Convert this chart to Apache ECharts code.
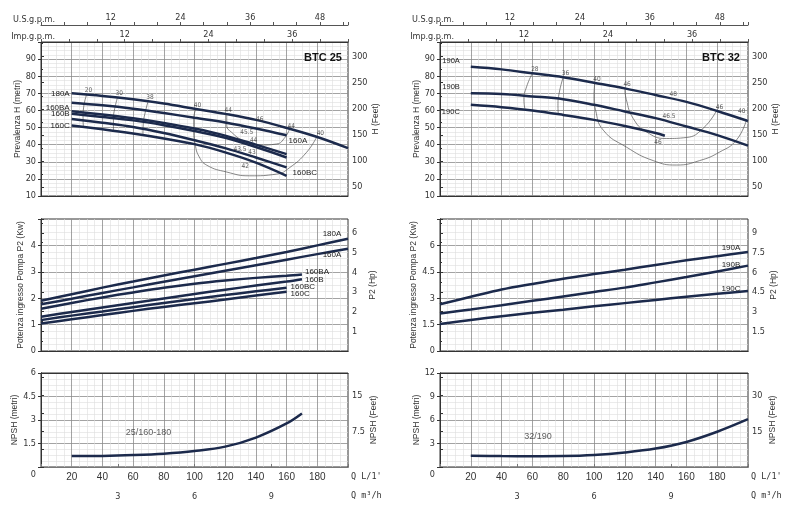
<!DOCTYPE html>
<html><head><meta charset="utf-8">
<script src="https://cdn.jsdelivr.net/npm/echarts@6/dist/echarts.min.js"></script>
<style>html,body{margin:0;padding:0;background:#fff}#c{width:800px;height:526px}</style>
</head><body><div id="c"></div><script>
// ---------- data (Q in L/min) ----------
const Q20_160 = [20,40,60,80,100,120,140,160];
const Q20_200 = [20,40,60,80,100,120,140,160,180,200];
const Q20_146 = [20,40,60,80,100,120,140,146];
const Q20_170 = [20,40,60,80,100,120,140,160,170];
const Q0_200 = [0,20,40,60,80,100,120,140,160,180,200];
const Q0_170 = [0,20,40,60,80,100,120,140,160,170];
const Q0_160 = [0,20,40,60,80,100,120,140,160];

// BTC 25 head H (m)
const H_180A  = [70,68.5,66.5,64,61,58,54.5,49.8,44.5,38];
const H_160A  = [64.5,63,61,58.5,55.7,53,49.5,45.5];
const H_160BA = [59.5,57.6,55.4,52.7,49.4,45.3,40,34.5];
const H_160B  = [58,56.2,54.2,51.4,48,44,38.6,32.5];
const H_160BC = [55,52.8,50.3,46.8,42.6,38,32.5,26.7];
const H_160C  = [51.2,49,46.5,43.6,40.3,35.5,29.5,21.8];
// BTC 32 head H (m)
const H_190A = [85.5,84,81.7,79.4,76.2,72.9,69,65,59.7,53.8];
const H_190B = [70,69.6,68.2,66.6,63.3,59.4,55.5,50.6,45.6,39.4];
const H_190C = [63.3,61.9,60,57.4,54.5,50.9,46.8,45.2];

// BTC 25 power P2 (kW)
const P_180A  = [1.9,2.15,2.4,2.63,2.86,3.08,3.3,3.52,3.75,4.0,4.25];
const P_160A  = [1.77,1.98,2.2,2.41,2.62,2.83,3.04,3.25,3.46,3.67,3.87];
const P_160BA = [1.6,1.82,2.03,2.22,2.4,2.55,2.67,2.77,2.85,2.9];
const P_160B  = [1.3,1.48,1.65,1.82,1.99,2.16,2.32,2.48,2.63,2.72];
const P_160BC = [1.17,1.34,1.5,1.66,1.82,1.97,2.12,2.26,2.4];
const P_160C  = [1.04,1.2,1.36,1.52,1.67,1.81,1.95,2.1,2.24];
// BTC 32 power P2 (kW)
const P_190A = [2.66,3.08,3.49,3.81,4.11,4.37,4.62,4.89,5.15,5.39,5.62];
const P_190B = [2.13,2.36,2.6,2.85,3.1,3.35,3.6,3.9,4.2,4.52,4.85];
const P_190C = [1.53,1.76,1.98,2.17,2.35,2.54,2.72,2.9,3.08,3.25,3.41];

// NPSH (m)
const N_25 = [0.7,0.71,0.76,0.85,1.02,1.3,1.88,2.78,3.42];
const N_32 = [1.44,1.4,1.38,1.4,1.53,1.85,2.35,3.2,4.5,6.1];

// efficiency iso-curves [Q, H]
const E25_20 = [[30,70],[27.8,62],[27.4,56],[27.6,50.5]];
const E25_30 = [[50,68],[48,61],[47.2,55],[47.2,48.5]];
const E25_38 = [[70,66],[67.8,58.5],[66.6,52],[66.4,46]];
const E25_40 = [[101,61.2],[99.5,55],[99.5,49],[100.5,40],[103,33],[108,28],[121,24],[136,21.8],[153.5,22.8],[162,26.6],[173,35.5],[179.6,44.5]];
const E25_44 = [[121,58],[121,51.2],[124.2,47.2],[131.8,42.4],[142.7,39.8],[153.5,40.4],[159,44.3],[162,49.3]];
const E32_28 = [[60,81.7],[56.2,73.8],[54.5,66.3],[55.1,61]];
const E32_36 = [[80,79.5],[77.4,70.2],[76.6,63],[76.8,58]];
const E32_40 = [[100.5,76.1],[100,68],[101,60.4],[106,48.5],[121,38.6],[138.4,30.7],[153.5,28.1],[168.6,30.7],[181.6,35.7],[192.4,42.6],[198.9,54.2]];
const E32_46 = [[120,72.9],[121,66.3],[125.4,55.4],[134,47.5],[147,43.6],[160,44.2],[170.8,49.5],[179.4,59.6]];

// efficiency numbers [label, Q, H]
const EL25 = [['20',31,71.8],['30',51,69.8],['38',71,67.8],['40',102,63],['40',182,46.5],['44',122,60],['44',163,51],
              ['46',142.5,54.6],['45.5',134,47],['44',138.5,42.8],['43.5',129.6,37.2],['43',137.5,35.8],['42',133,27.2]];
const EL32 = [['28',61.6,84],['36',81.5,81.6],['40',102,78.2],['46',121.5,75],['48',151.5,69.5],['46.5',148.7,56.4],
              ['46',181.5,62],['40',196,59.5],['46',141.6,41.6]];

// ---------- helpers ----------
const NUM = "'Liberation Sans Narrow','DejaVu Sans Condensed','Roboto Condensed',Roboto,sans-serif";
const TXT = "'Liberation Sans',Arial,sans-serif";
const MONO = "'DejaVu Sans Mono','Liberation Mono',monospace";
const MAJ = '#8c8c8c', MIN = '#dedede', LINE = '#1c2a4c';

const G = [
  {left:41, top:42, width:307, height:154},
  {left:440, top:42, width:308, height:154},
  {left:41, top:219, width:307, height:132},
  {left:440, top:219, width:308, height:132},
  {left:41, top:373, width:307, height:94},
  {left:440, top:373, width:308, height:94}
];

function qAxis(gi, showLabels, name){
  return {type:'value', gridIndex:gi, position:'bottom', min:0, max:200, interval:20,
    axisLine:{show:true, lineStyle:{color:'#333', width:1}}, axisTick:{show:false},
    axisLabel: showLabels ? {show:true, fontSize:10, color:'#333', margin:5, fontFamily:TXT,
      formatter: v => (v===0 || v===200) ? '' : String(v)} : {show:false},
    splitLine:{show:true, showMinLine:false, showMaxLine:false, lineStyle:{color:MAJ, width:0.8}},
    minorTick:{show:false, splitNumber:4},
    minorSplitLine:{show:true, lineStyle:{color:MIN, width:0.6}},
    name: name || '', nameLocation:'end', nameGap:3,
    nameTextStyle:{fontSize:8.5, color:'#333', fontFamily:MONO, align:'left', verticalAlign:'top', padding:[5,0,0,0]}
  };
}
function gpmAxis(gi, factor, offset, name, lc){
  return {type:'value', gridIndex:gi, position:'top', offset:offset, min:0, max:200/factor, interval:4,
    axisLine:{show:true, lineStyle:{color:lc, width:1}},
    axisTick:{show:true, length:3, inside:false, lineStyle:{color:'#555'}},
    axisLabel:{show:true, fontSize:9, color:'#333', margin:3, fontFamily:NUM,
      formatter: v => (v>0 && Math.abs(v%12)<1e-6) ? String(v) : ''},
    splitLine:{show:false},
    name:name, nameLocation:'start', nameGap:-14,
    nameTextStyle:{fontSize:9, color:'#333', fontFamily:NUM, align:'right', verticalAlign:'bottom', padding:[0,0,1,0]}
  };
}
function m3Axis(gi){
  return {type:'value', gridIndex:gi, position:'bottom', offset:20, min:0, max:12, interval:3,
    axisLine:{show:true, lineStyle:{color:'#777'}},
    axisTick:{show:true, inside:true, length:3, lineStyle:{color:'#777'}},
    axisLabel:{fontSize:9, color:'#333', margin:5, fontFamily:NUM, formatter: v => (v>0 && v<12) ? String(v) : ''},
    splitLine:{show:false},
    name:'Q m³/h', nameLocation:'end', nameGap:3,
    nameTextStyle:{fontSize:8.5, color:'#333', fontFamily:MONO, align:'left', verticalAlign:'top', padding:[24,0,0,0]}
  };
}
function topBorder(gi){
  return {type:'value', gridIndex:gi, position:'top', min:0, max:200,
    axisLine:{show:true, lineStyle:{color:'#333'}}, axisTick:{show:false}, axisLabel:{show:false}, splitLine:{show:false}};
}
function yLeft(gi, min, max, interval, name, fmt, rich){
  return {type:'value', gridIndex:gi, position:'left', min:min, max:max, interval:interval,
    name:name, nameLocation:'middle', nameGap:16,
    nameTextStyle:{fontSize:8.5, color:'#333', fontFamily:TXT},
    axisLine:{show:true, lineStyle:{color:'#333', width:1}},
    axisTick:{show:true, length:3, lineStyle:{color:'#333'}},
    axisLabel:{fontSize:9, color:'#333', margin:5, fontFamily:NUM, formatter:fmt, rich:rich||{}},
    splitLine:{show:true, showMinLine:false, showMaxLine:false, lineStyle:{color:MAJ, width:0.8}},
    minorTick:{show:false, splitNumber:4},
    minorSplitLine:{show:true, lineStyle:{color:MIN, width:0.6}}
  };
}
function yRight(gi, min, max, interval, name, fmt, minor){
  const a = {type:'value', gridIndex:gi, position:'right', min:min, max:max,
    name:name, nameLocation:'middle', nameGap:20,
    nameTextStyle:{fontSize:8.5, color:'#333', fontFamily:TXT},
    axisLine:{show:true, lineStyle:{color:'#333', width:1}},
    axisTick:{show:true, length:3, lineStyle:{color:'#333'}},
    axisLabel:{fontSize:9, color:'#333', margin:4, fontFamily:NUM, formatter:fmt},
    splitLine:{show:false},
    minorTick:{show:!!minor, splitNumber:2, length:2, lineStyle:{color:'#333'}},
    minorSplitLine:{show:false}
  };
  if (interval) a.interval = interval; else a.splitNumber = 6;
  return a;
}
const isMult = (v, m) => Math.abs(v/m - Math.round(v/m)) < 1e-6;

function curve(name, qs, vs, xi, yi, startLab, endLab){
  const data = qs.map((q,i) => ({value:[q, vs[i]]}));
  if (startLab) data[0].label = Object.assign({show:true, formatter:name, position:'left', distance:2}, startLab);
  if (endLab) data[data.length-1].label = Object.assign({show:true, formatter:name, position:'right', distance:3}, endLab);
  return {type:'line', name:name, xAxisIndex:xi, yAxisIndex:yi, data:data, smooth:0.35,
    symbol:'circle', symbolSize:0, showSymbol:true, silent:true,
    lineStyle:{color:LINE, width:2.5}, itemStyle:{color:LINE},
    label:{show:false, fontSize:8, color:'#222', fontFamily:TXT}, z:5};
}
function eff(pts, xi, yi){
  return {type:'line', xAxisIndex:xi, yAxisIndex:yi, data:pts, smooth:0.5, symbol:'none', silent:true,
    lineStyle:{color:'#555', width:0.7}, z:4};
}
function effLabels(list, xi, yi){
  return {type:'scatter', xAxisIndex:xi, yAxisIndex:yi, symbolSize:0, silent:true, z:6,
    data: list.map(d => ({name:d[0], value:[d[1], d[2]]})),
    label:{show:true, formatter:'{b}', position:'inside', fontSize:6.5, color:'#333', fontFamily:NUM}};
}
function note(text, q, v, xi, yi){
  return {type:'scatter', xAxisIndex:xi, yAxisIndex:yi, symbolSize:0, silent:true, z:6,
    data:[{name:text, value:[q, v]}],
    label:{show:true, formatter:'{b}', position:'inside', fontSize:9, color:'#333', fontFamily:TXT}};
}

const FT = 3.28084, HP = 0.7457;
const TITLE_STYLE = {fontSize:11, fontWeight:'bold', color:'#111', fontFamily:TXT};
const option = {
  animation:false, backgroundColor:'#fff',
  title:[
    {text:'BTC 25', left:299, top:47, textStyle:TITLE_STYLE},
    {text:'BTC 32', left:697, top:47, textStyle:TITLE_STYLE}
  ],
  grid: G.map(g => Object.assign({show:true, borderColor:'#333', borderWidth:1, backgroundColor:'transparent', containLabel:false, outerBoundsMode:'none'}, g)),
  xAxis:[
    qAxis(0,false), gpmAxis(0,4.54609,0,'Imp.g.p.m.','#333'), gpmAxis(0,3.78541,17,'U.S.g.p.m.','#555'),
    qAxis(1,false), gpmAxis(1,4.54609,0,'Imp.g.p.m.','#333'), gpmAxis(1,3.78541,17,'U.S.g.p.m.','#555'),
    qAxis(2,false), qAxis(3,false),
    qAxis(4,true,"Q L/1'"), m3Axis(4),
    qAxis(5,true,"Q L/1'"), m3Axis(5),
    topBorder(2), topBorder(3), topBorder(4), topBorder(5)
  ],
  yAxis:[
    yLeft(0,10,100,10,'Prevalenza H (metri)', v => v>=100 ? '' : String(v)),
    yRight(0,10*FT,100*FT,null,'H (Feet)', v => (v>0 && v<=300 && isMult(v,50)) ? String(v) : '', true),
    yLeft(1,10,100,10,'Prevalenza H (metri)', v => v>=100 ? '' : String(v)),
    yRight(1,10*FT,100*FT,null,'H (Feet)', v => (v>0 && v<=300 && isMult(v,50)) ? String(v) : '', true),
    yLeft(2,0,5,1,'Potenza ingresso Pompa P2 (Kw)', v => v>=5 ? '' : String(v)),
    yRight(2,0,5/HP,1,'P2 (Hp)', v => (v>0 && v<6.5 && isMult(v,1)) ? String(v) : '', true),
    yLeft(3,0,7.5,1.5,'Potenza ingresso Pompa P2 (Kw)', v => v>=7.5 ? '' : String(v)),
    yRight(3,0,7.5/HP,1.5,'P2 (Hp)', v => (v>0 && v<10 && isMult(v,1.5)) ? String(v) : '', true),
    yLeft(4,0,6,1.5,'NPSH (metri)', v => v===0 ? '{z|0}' : String(v), {z:{padding:[16,0,0,0], fontSize:9, color:'#333', fontFamily:NUM}}),
    yRight(4,0,6*FT,3.75,'NPSH (Feet)', v => (v>0 && isMult(v,7.5)) ? String(v) : '', false),
    yLeft(5,0,12,3,'NPSH (metri)', v => v===0 ? '{z|0}' : String(v), {z:{padding:[16,0,0,0], fontSize:9, color:'#333', fontFamily:NUM}}),
    yRight(5,0,12*FT,7.5,'NPSH (Feet)', v => (v>0 && isMult(v,15)) ? String(v) : '', false)
  ],
  series:[
    // BTC 25 head
    eff(E25_20,0,0), eff(E25_30,0,0), eff(E25_38,0,0), eff(E25_40,0,0), eff(E25_44,0,0),
    curve('180A', Q20_200, H_180A, 0,0, {}, null),
    curve('160A', Q20_160, H_160A, 0,0, null, {distance:2, offset:[0,6]}),
    curve('160BA', Q20_160, H_160BA, 0,0, {offset:[0,-4]}, null),
    curve('160B', Q20_160, H_160B, 0,0, {}, null),
    curve('160BC', Q20_160, H_160BC, 0,0, null, {distance:6, offset:[0,5]}),
    curve('160C', Q20_160, H_160C, 0,0, {}, null),
    effLabels(EL25,0,0),
    // BTC 32 head
    eff(E32_28,3,2), eff(E32_36,3,2), eff(E32_40,3,2), eff(E32_46,3,2),
    curve('190A', Q20_200, H_190A, 3,2, {distance:11, offset:[0,-6], fontSize:7.5}, null),
    curve('190B', Q20_200, H_190B, 3,2, {distance:11, offset:[0,-6], fontSize:7.5}, null),
    curve('190C', Q20_146, H_190C, 3,2, {distance:11, offset:[0,7.5], fontSize:7.5}, null),
    effLabels(EL32,3,2),
    // BTC 25 power
    curve('180A', Q0_200, P_180A, 6,4, null, {position:'top', offset:[-16,2]}),
    curve('160A', Q0_200, P_160A, 6,4, null, {position:'bottom', offset:[-16,-1]}),
    curve('160BA', Q0_170, P_160BA, 6,4, null, {distance:3, offset:[0,-3]}),
    curve('160B', Q0_170, P_160B, 6,4, null, {distance:3, offset:[0,1]}),
    curve('160BC', Q0_160, P_160BC, 6,4, null, {distance:4, offset:[0,-1]}),
    curve('160C', Q0_160, P_160C, 6,4, null, {distance:4, offset:[0,2]}),
    // BTC 32 power
    curve('190A', Q0_200, P_190A, 7,6, null, {position:'top', offset:[-17,3]}),
    curve('190B', Q0_200, P_190B, 7,6, null, {position:'top', offset:[-17,6]}),
    curve('190C', Q0_200, P_190C, 7,6, null, {position:'top', offset:[-17,5]}),
    // NPSH
    curve('25/160-180', Q20_170, N_25, 8,8, null, null),
    note('25/160-180', 70, 2.23, 8,8),
    curve('32/190', Q20_200, N_32, 10,10, null, null),
    note('32/190', 63.6, 3.83, 10,10)
  ]
};
const chart = echarts.init(document.getElementById('c'), null, {renderer:'canvas'});
chart.setOption(option);
</script></body></html>
